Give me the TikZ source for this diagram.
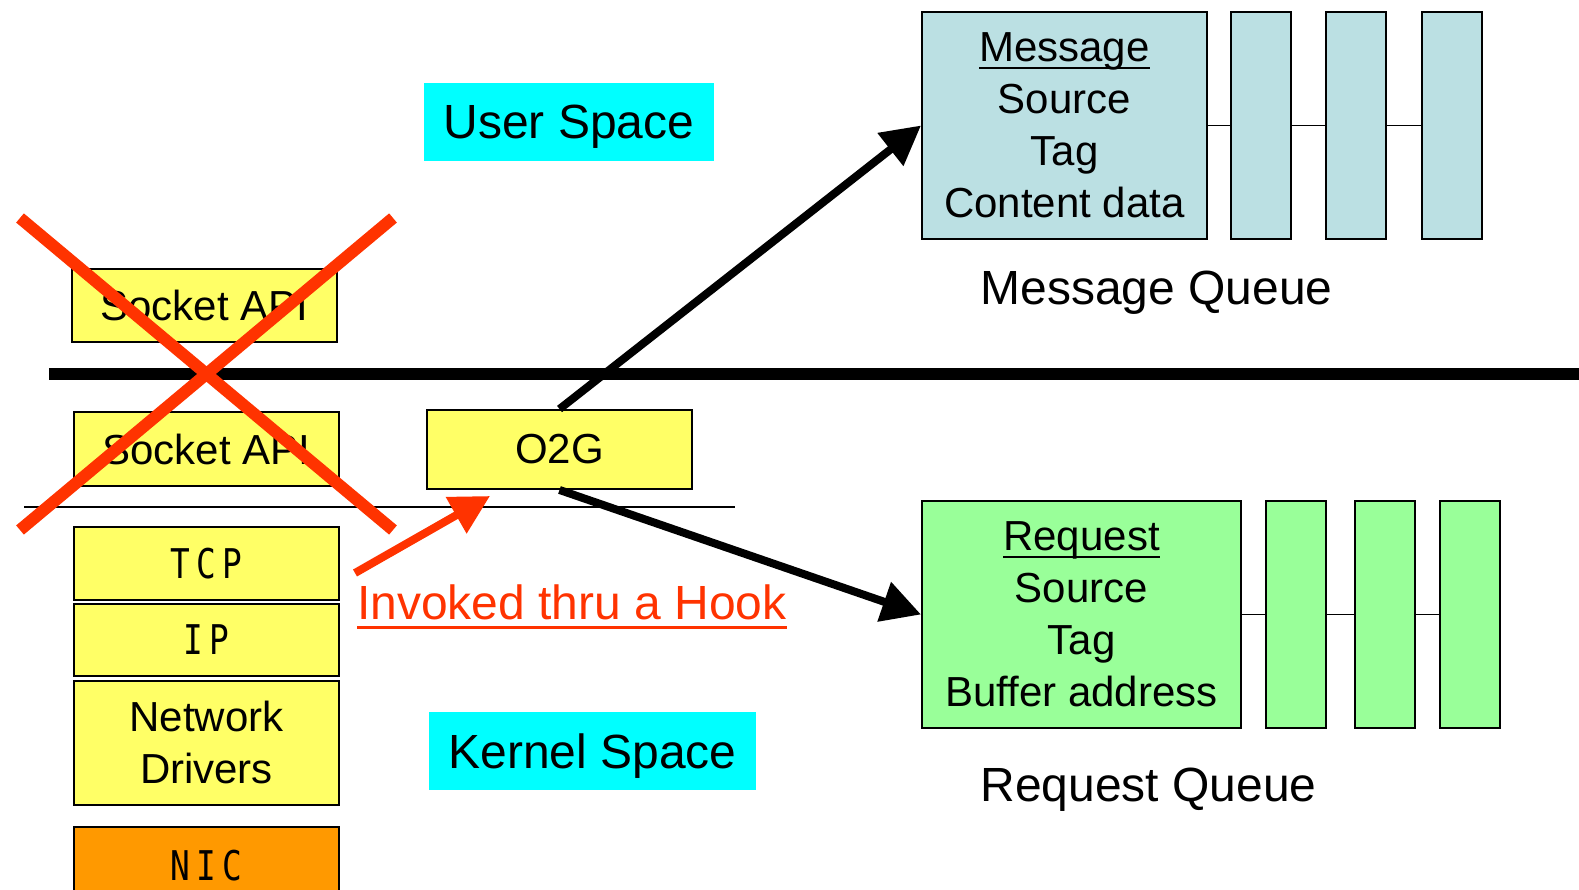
\documentclass[tikz,border=0pt]{standalone}
\usepackage{fontspec}
\setmainfont{Liberation Sans}
\newfontfamily\layerfont{DejaVu Sans Mono}[FakeStretch=0.8,LetterSpace=15]
\usetikzlibrary{positioning, arrows.meta}

\definecolor{boxyellow}{HTML}{FFFF66}
\definecolor{msgblue}{HTML}{BBE0E3}
\definecolor{reqgreen}{HTML}{99FF99}
\definecolor{nicorange}{HTML}{FF9900}
\definecolor{spacecyan}{HTML}{00FFFF}
\definecolor{hookred}{HTML}{FF3300}

\newcommand{\ulined}[1]{\setbox0=\hbox{#1}\rlap{\rule[-0.18em]{\wd0}{0.06em}}\box0}

\begin{document}
\begin{tikzpicture}[node distance=0.5cm, thick]
    % Define block styles
    \tikzstyle{block} = [rectangle, draw, line width=1.1pt, fill=boxyellow, minimum width=5.3cm, inner sep=0pt, align=center, font=\fontsize{23.9}{29.6}\selectfont]
    \tikzstyle{layer} = [block, font=\layerfont\fontsize{23.3}{28}\selectfont]
    \tikzstyle{queuebox} = [block, minimum height=4.54cm]
    \tikzstyle{slot} = [rectangle, draw, line width=1.1pt, minimum width=1.2cm, minimum height=4.54cm]
    \tikzstyle{spacebox} = [rectangle, fill=spacecyan, inner sep=0pt, text depth=0pt, minimum height=1.56cm, font=\fontsize{27.3}{32}\selectfont]
    \tikzstyle{caption} = [inner sep=0pt, font=\fontsize{27.3}{32}\selectfont]
    \tikzstyle{flow} = [line width=0.16cm, -{Triangle[length=0.78cm, width=0.8cm]}]
    \tikzstyle{strike} = [line width=0.24cm, hookred]

    \useasboundingbox (0,0) rectangle (31.58,17.78);
    \clip (0,0) rectangle (31.58,17.78);

    % Place main nodes
    \node [block, minimum height=1.46cm] (sockU) at (4.09, 11.67) {Socket API};
    \node [block, minimum height=1.48cm] (sockL) at (4.13, 8.80) {Socket API};
    \node [block, minimum height=1.58cm] (o2g) at (11.19, 8.79) {O2G};

    % Place protocol stack
    \node [layer, minimum height=1.46cm] (tcp) at (4.13, 6.51) {TCP};
    \node [layer, minimum height=1.44cm, below=0.04cm of tcp] (ip) {IP};
    \node [block, minimum height=2.48cm, below=0.06cm of ip] (drv) {Network\\Drivers};
    \node [layer, fill=nicorange, minimum height=1.56cm, below=0.4cm of drv] (nic) {NIC};

    % Place space labels
    \node [spacebox, minimum width=5.8cm] (user) at (11.38, 15.34) {User Space};
    \node [spacebox, minimum width=6.54cm] (kernel) at (11.85, 2.75) {Kernel Space};

    % Place message queue
    \node [queuebox, fill=msgblue, minimum width=5.7cm] (msg) at (21.29, 15.27) {\ulined{Message}\\Source\\Tag\\Content data};
    \node [slot, fill=msgblue, right=0.44cm of msg] (msg1) {};
    \node [slot, fill=msgblue, right=0.67cm of msg1] (msg2) {};
    \node [slot, fill=msgblue, right=0.67cm of msg2] (msg3) {};
    \node [caption, anchor=base] (msgcap) at (23.13, 11.68) {Message Queue};

    % Place request queue
    \node [queuebox, fill=reqgreen, minimum width=6.38cm] (req) at (21.63, 5.49) {\ulined{Request}\\Source\\Tag\\Buffer address};
    \node [slot, fill=reqgreen, right=0.46cm of req] (req1) {};
    \node [slot, fill=reqgreen, right=0.54cm of req1] (req2) {};
    \node [slot, fill=reqgreen, right=0.46cm of req2] (req3) {};
    \node [caption, anchor=base] (reqcap) at (22.97, 1.74) {Request Queue};

    % Draw queue links
    \draw [line width=1.1pt] (msg) -- (msg1);
    \draw [line width=1.1pt] (msg1) -- (msg2);
    \draw [line width=1.1pt] (msg2) -- (msg3);
    \draw [line width=1.1pt] (req) -- (req1);
    \draw [line width=1.1pt] (req1) -- (req2);
    \draw [line width=1.1pt] (req2) -- (req3);

    % Draw boundary lines
    \coordinate (splitL) at (0.98, 10.30);
    \coordinate (splitR) at (31.7, 10.30);
    \draw [line width=0.24cm] (splitL) -- (splitR);
    \coordinate (hookL) at (0.48, 7.64);
    \coordinate (hookR) at (14.70, 7.64);
    \draw [line width=0.04cm] (hookL) -- (hookR);

    % Cross out the socket path
    \coordinate (xTL) at (0.40, 13.42);
    \coordinate (xBR) at (7.86, 7.18);
    \coordinate (xTR) at (7.86, 13.42);
    \coordinate (xBL) at (0.40, 7.18);
    \draw [strike] (xTL) -- (xBR);
    \draw [strike] (xTR) -- (xBL);

    % Draw connections as arrows
    \draw [flow] (o2g.north) -- (msg.west);
    \draw [flow] (o2g.south) -- (req.west);
    \coordinate (hookfrom) at (7.10, 6.32);
    \coordinate (hooktip) at (9.80, 7.86);
    \draw [flow, hookred] (hookfrom) -- (hooktip);
    \node [caption, anchor=base, text=hookred] (hook) at (11.44, 5.38) {\ulined{Invoked thru a Hook}};

\end{tikzpicture}
\end{document}
